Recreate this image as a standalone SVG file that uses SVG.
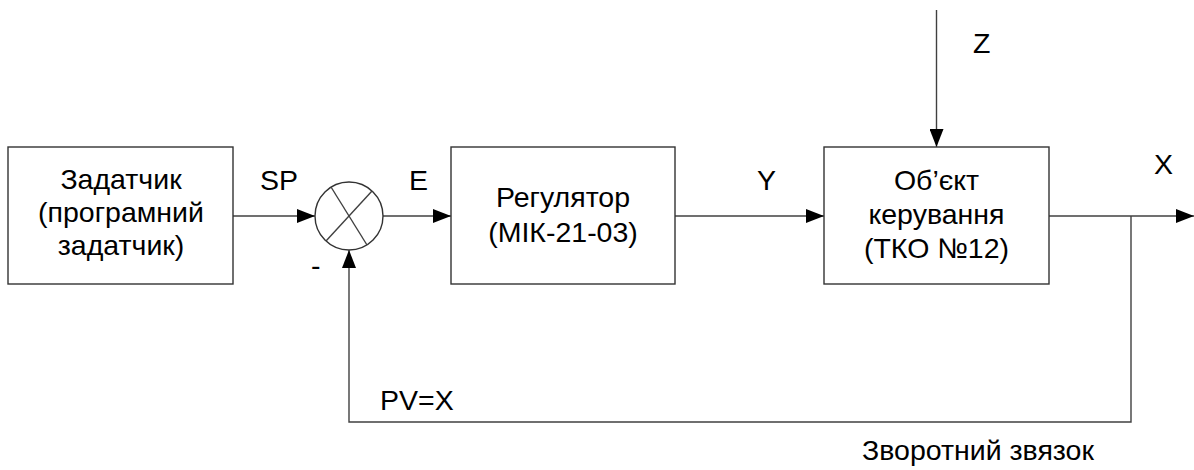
<svg xmlns="http://www.w3.org/2000/svg" width="1194" height="470" viewBox="0 0 1194 470">
  <style>
    .box { fill: #ffffff; stroke: #333333; stroke-width: 1.4; }
    .ln { fill: none; stroke: #404040; stroke-width: 1.4; }
    text { font-family: "Liberation Sans", Arial, sans-serif; font-size: 28.5px; fill: #000000; }
    .c { text-anchor: middle; }
  </style>
  <defs>
    <marker id="arr" markerUnits="userSpaceOnUse" markerWidth="20" markerHeight="14" refX="18" refY="7" orient="auto">
      <path d="M0,0 L18,7 L0,14 Z" fill="#000000"/>
    </marker>
  </defs>
  <rect width="1194" height="470" fill="#ffffff"/>

  <g id="connectors">
    <line class="ln" x1="233" y1="216" x2="315" y2="216" marker-end="url(#arr)"/>
    <line class="ln" x1="383" y1="216" x2="451" y2="216" marker-end="url(#arr)"/>
    <line class="ln" x1="675" y1="216" x2="824" y2="216" marker-end="url(#arr)"/>
    <line class="ln" x1="1049" y1="216" x2="1194" y2="216" marker-end="url(#arr)"/>
    <line class="ln" x1="936.5" y1="10" x2="936.5" y2="147" marker-end="url(#arr)"/>
    <polyline class="ln" points="1131,216 1131,422 349,422 349,250" marker-end="url(#arr)"/>
    <text x="260" y="190">SP</text>
    <text x="409" y="190">E</text>
    <text x="757" y="190">Y</text>
    <text x="1154" y="174">X</text>
    <text x="973" y="53">Z</text>
    <text x="311" y="275">-</text>
    <text x="380" y="410">PV=X</text>
    <text x="862" y="460">Зворотний звязок</text>
  </g>

  <g id="zadatchyk">
    <rect class="box" x="8" y="147" width="225" height="137"/>
    <text class="c" x="121" y="189">Задатчик</text>
    <text class="c" x="121" y="222">(програмний</text>
    <text class="c" x="121" y="255">задатчик)</text>
  </g>

  <g id="summator">
    <circle class="box" cx="349" cy="216" r="34"/>
    <line class="ln" x1="331" y1="187" x2="367" y2="245"/>
    <line class="ln" x1="372" y1="191" x2="326" y2="241"/>
  </g>

  <g id="regulator">
    <rect class="box" x="451" y="147" width="224" height="137"/>
    <text class="c" x="563" y="207">Регулятор</text>
    <text class="c" x="563" y="242">(МІК-21-03)</text>
  </g>

  <g id="object">
    <rect class="box" x="824" y="147" width="225" height="137"/>
    <text class="c" x="936.5" y="190">Об’єкт</text>
    <text class="c" x="936.5" y="224">керування</text>
    <text class="c" x="936.5" y="258">(ТКО №12)</text>
  </g>
</svg>
